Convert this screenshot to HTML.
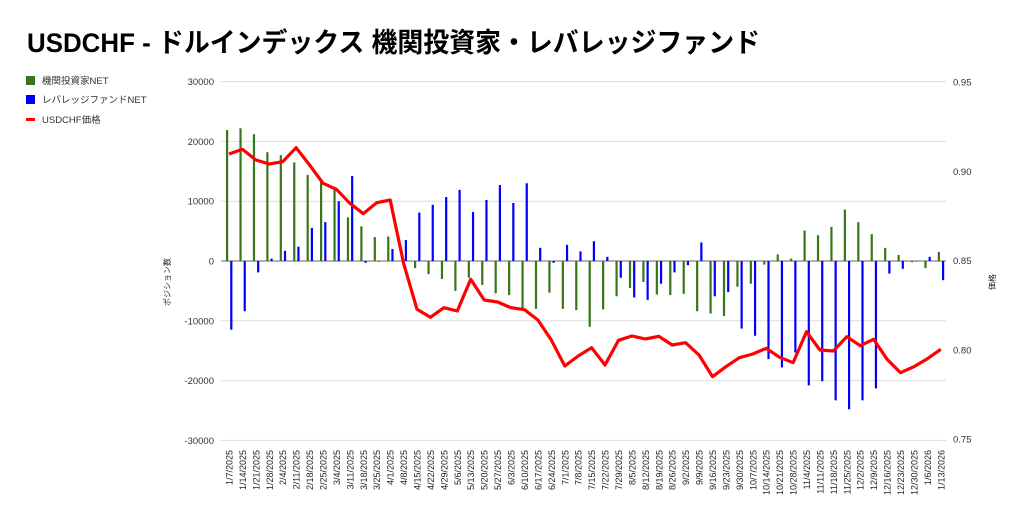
<!DOCTYPE html>
<html><head><meta charset="utf-8">
<style>
html,body{margin:0;padding:0;background:#fff;}
body{width:1024px;height:521px;overflow:hidden;font-family:"Liberation Sans","Noto Sans CJK JP",sans-serif;}
svg text{font-family:"Liberation Sans","Noto Sans CJK JP",sans-serif;}
</style></head>
<body>
<svg id="c" width="1024" height="521" xmlns="http://www.w3.org/2000/svg">
<text x="27" y="52" font-size="27" font-weight="bold" fill="#000" textLength="733" lengthAdjust="spacingAndGlyphs">USDCHF - ドルインデックス 機関投資家・レバレッジファンド</text>
<rect x="26" y="76" width="9" height="9" fill="#38761d"/>
<text x="42" y="84" font-size="9.5" fill="#333">機関投資家NET</text>
<rect x="26" y="95" width="9" height="9" fill="#0000ff"/>
<text x="42" y="103" font-size="9.5" fill="#333">レバレッジファンドNET</text>
<rect x="26" y="118" width="9" height="3" fill="#ff0000"/>
<text x="42" y="123" font-size="9.5" fill="#333">USDCHF価格</text>
<text transform="translate(170,282) rotate(-90)" font-size="8" fill="#222" text-anchor="middle">ポジション数</text>
<text transform="translate(995,282) rotate(-90)" font-size="8" fill="#222" text-anchor="middle">価格</text>
<g id="g"></g>
</svg>
<script>
var g=document.getElementById('g'),NS='http://www.w3.org/2000/svg';
function el(t,a,txt){var e=document.createElementNS(NS,t);for(var k in a)e.setAttribute(k,a[k]);if(txt!=null)e.textContent=txt;g.appendChild(e);return e;}
var zero=261,per=59.8/10000;
var lv=[30000,20000,10000,0,-10000,-20000,-30000],rv=['0.95','0.90','0.85','0.80','0.75'];
lv.forEach(function(v){var y=zero-v*per;el('line',{x1:221,x2:946,y1:y,y2:y,stroke:v==0?'#666':'#ddd','stroke-width':1});
el('text',{x:214,y:y+3.5,'font-size':9.5,'text-anchor':'end',fill:'#333'},String(v));});
rv.forEach(function(v,i){var y=82+i*89.25;el('text',{x:953,y:y+3.5,'font-size':9.5,fill:'#333'},v);});
var G=[21900,22200,21200,18200,17700,16500,14400,13200,11900,7300,5800,4000,4100,0,-1200,-2200,-3000,-5000,-2800,-4000,-5400,-5700,-8000,-8000,-5300,-8000,-8200,-11000,-8100,-5900,-4500,-3500,-5600,-5700,-5500,-8400,-8800,-9200,-4300,-3800,-600,1100,400,5100,4300,5700,8600,6500,4500,2200,1000,-200,-1200,1500];
var B=[-11500,-8400,-1900,400,1700,2400,5500,6500,10000,14200,-300,-100,2000,3500,8100,9400,10700,11900,8200,10200,12700,9700,13000,2200,-300,2700,1600,3300,700,-2800,-6100,-6500,-3800,-1900,-700,3100,-5900,-5200,-11300,-12500,-16400,-17800,-15300,-20800,-20100,-23300,-24800,-23300,-21300,-2100,-1300,0,700,-3200];
var R=[154,149.3,160,164,161.7,147.7,165,183.3,189.3,203.3,213.7,202.7,200,263.3,309.3,317.3,307.7,311,279.3,300,302,307.7,309.7,320,340,366,356,347.7,365,340.3,336,339,336.3,345,342.7,355,376.7,366.7,357.7,354,348.3,357.3,362.7,331.7,350,351,336.7,345.7,339.3,359.3,372.7,366.7,358.7,349.3];
var d0=new Date(2025,0,7),pts=[];
for(var i=0;i<54;i++){var c=229+13.43*i;
 function bar(x,v,col){var y=zero-v*per;el('rect',{x:x-1,y:Math.min(y,zero),width:2.2,height:Math.max(Math.abs(zero-y),0.5),fill:col});}
 bar(c-2,G[i],'#38761d');bar(c+2.2,B[i],'#0000ff');
 pts.push(c.toFixed(1)+','+R[i]);
 var d=new Date(d0.getTime()+i*7*864e5);var s=(d.getMonth()+1)+'/'+d.getDate()+'/'+d.getFullYear();
 el('text',{transform:'translate('+(c+3.5)+',450) rotate(-90)','font-size':9,'text-anchor':'end',fill:'#222'},s);
}
el('polyline',{points:pts.join(' '),fill:'none',stroke:'#ff0000','stroke-width':3.2,'stroke-linejoin':'round'});
</script>
</body></html>
